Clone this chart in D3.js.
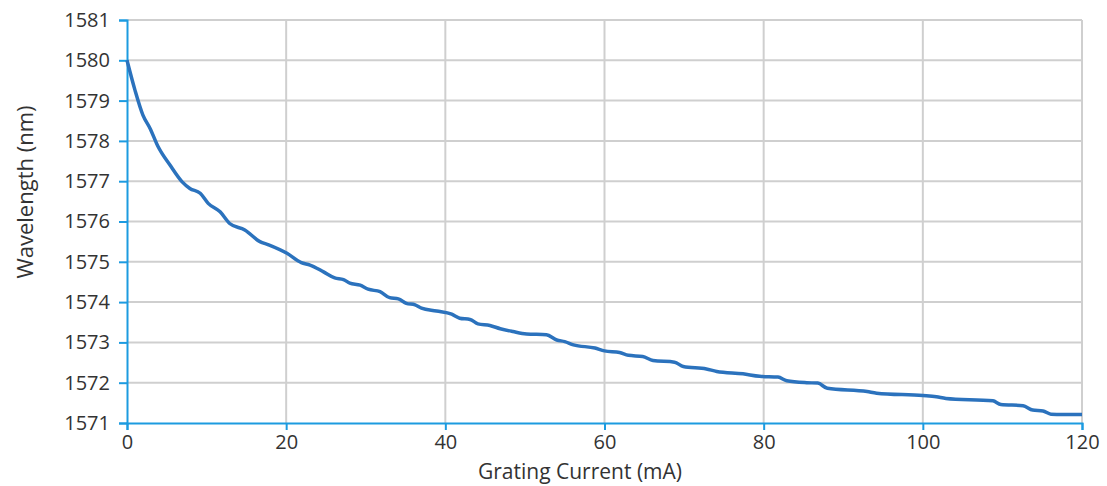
<!DOCTYPE html>
<html>
<head>
<meta charset="utf-8">
<script src="https://cdn.jsdelivr.net/npm/d3@7"></script>
<style>
  body { margin: 0; background: #fff; }
  svg text { font-family: "Open Sans", "Noto Sans", sans-serif; fill: #333; }
</style>
</head>
<body>
<svg id="chart" width="1107" height="486"></svg>
<script>
const current = [0, 1, 2, 2.9, 3.9, 5.4, 6.9, 7.9, 9.2, 10.2, 11.7, 12.9, 14.8, 16.7, 17.8, 20.1,
  21.9, 23, 24.7, 26.1, 27.2, 28, 29.3, 30.3, 31.8, 33, 34.1, 35.1, 36.2, 37, 38.9, 40.8, 41.8,
  43.1, 44.1, 45.6, 46.9, 48.5, 50.2, 52.7, 54, 55, 56.1, 58.8, 60, 61.9, 63, 64.8, 66.1, 68.8,
  69.9, 72.8, 74.1, 77.4, 79.5, 81.8, 82.9, 85.4, 86.8, 88, 93, 94.2, 100, 101.7, 102.9, 108.8,
  109.8, 112.6, 113.8, 115.1, 116.1, 120];
const wavelength = [1580, 1579.26, 1578.64, 1578.31, 1577.86, 1577.4, 1576.99, 1576.82, 1576.7,
  1576.45, 1576.24, 1575.95, 1575.79, 1575.5, 1575.42, 1575.21, 1574.98, 1574.92, 1574.75, 1574.6,
  1574.56, 1574.47, 1574.42, 1574.32, 1574.26, 1574.11, 1574.08, 1573.97, 1573.93, 1573.85,
  1573.78, 1573.7, 1573.6, 1573.57, 1573.46, 1573.42, 1573.34, 1573.27, 1573.21, 1573.19, 1573.06,
  1573.02, 1572.94, 1572.86, 1572.79, 1572.75, 1572.68, 1572.65, 1572.55, 1572.51, 1572.4,
  1572.34, 1572.28, 1572.22, 1572.16, 1572.14, 1572.05, 1572.0, 1571.99, 1571.86, 1571.78,
  1571.74, 1571.68, 1571.65, 1571.61, 1571.55, 1571.46, 1571.43, 1571.32, 1571.3, 1571.22, 1571.21];
const xTicks = [0, 20, 40, 60, 80, 100, 120];
const yTicks = [1571, 1572, 1573, 1574, 1575, 1576, 1577, 1578, 1579, 1580, 1581];

const margin = {top: 20, right: 25, bottom: 63, left: 127};
const width = 1107, height = 486;
const svg = d3.select('#chart');

const x = d3.scaleLinear().domain([0, 120]).range([margin.left, width - margin.right]);
const y = d3.scaleLinear().domain([1571, 1581]).range([height - margin.bottom, margin.top]);

// grid
svg.append('g')
    .attr('stroke', '#cfcfcf')
    .attr('stroke-width', 2)
    .call(g => g.selectAll('.h').data(yTicks.slice(1)).join('line')
        .attr('x1', x(0)).attr('x2', x(120))
        .attr('y1', d => y(d)).attr('y2', d => y(d)))
    .call(g => g.selectAll('.v').data(xTicks.slice(1)).join('line')
        .attr('y1', y(1571)).attr('y2', y(1581))
        .attr('x1', d => x(d)).attr('x2', d => x(d)));

const axisColor = '#1c9be0';

const xAxis = svg.append('g')
    .attr('transform', `translate(0,${y(1571)})`)
    .call(d3.axisBottom(x).tickValues(xTicks).tickSize(7).tickPadding(5));
const yAxis = svg.append('g')
    .attr('transform', `translate(${x(0)},0)`)
    .call(d3.axisLeft(y).tickValues(yTicks).tickSize(8).tickPadding(9).tickFormat(d3.format('d')));

[xAxis, yAxis].forEach(a => {
    a.select('.domain').attr('stroke', axisColor).attr('stroke-width', 2);
    a.selectAll('.tick line').attr('stroke', axisColor).attr('stroke-width', 2);
    a.selectAll('.tick text').style('font-size', '20px').attr('fill', '#333');
});

// line
const data = current.map((c, i) => ({c, w: wavelength[i]}));
svg.append('path')
    .datum(data)
    .attr('fill', 'none')
    .attr('stroke', '#2b72bd')
    .attr('stroke-width', 3.5)
    .attr('stroke-linejoin', 'round')
    .attr('d', d3.line().x(d => x(d.c)).y(d => y(d.w)).curve(d3.curveMonotoneX));

// axis titles
svg.append('text')
    .attr('x', 580)
    .attr('y', 479)
    .attr('text-anchor', 'middle')
    .style('font-size', '21px')
    .text('Grating Current (mA)');
svg.append('text')
    .attr('transform', 'translate(33,192) rotate(-90)')
    .attr('text-anchor', 'middle')
    .style('font-size', '22px')
    .text('Wavelength (nm)');
</script>
</body>
</html>
